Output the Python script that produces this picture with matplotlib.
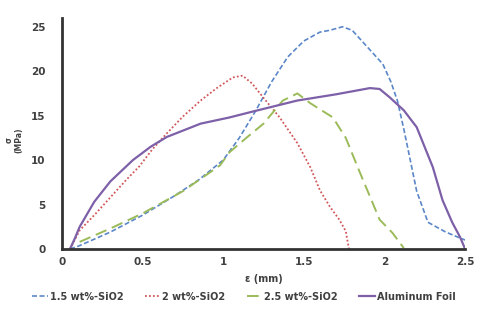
import matplotlib
matplotlib.use("Agg")
import matplotlib.pyplot as plt

# strain (mm) / stress (MPa)
x_15 = [0.05, 0.1, 0.3, 0.5, 0.7, 0.85, 1.0, 1.1, 1.2, 1.3, 1.4, 1.5, 1.6, 1.66, 1.74, 1.8, 1.87, 1.93,
        1.99, 2.04, 2.08, 2.12, 2.16, 2.2, 2.27, 2.38, 2.5]
y_15 = [0.0, 0.3, 1.9, 3.8, 6.0, 7.8, 10.0, 12.5, 15.5, 18.8, 21.6, 23.4, 24.4, 24.6, 25.0, 24.6, 23.2, 22.0,
        20.8, 18.8, 16.7, 13.5, 10.0, 6.5, 3.0, 1.9, 1.0]

x_20 = [0.05, 0.11, 0.2, 0.3, 0.4, 0.48, 0.56, 0.65, 0.75, 0.86, 0.96, 1.06, 1.12, 1.18, 1.25, 1.35,
        1.46, 1.54, 1.6, 1.66, 1.72, 1.76, 1.78]
y_20 = [0.0, 2.1, 3.8, 5.8, 7.8, 9.3, 11.2, 13.0, 14.9, 16.7, 18.1, 19.3, 19.5, 18.6, 17.0, 14.8,
        11.9, 9.2, 6.6, 4.8, 3.3, 2.0, 0.0]

x_25 = [0.11, 0.3, 0.5, 0.75, 0.98, 1.04, 1.15, 1.25, 1.37, 1.46, 1.54, 1.68, 1.76, 1.85, 1.97, 2.05, 2.12]
y_25 = [0.8, 2.3, 4.0, 6.5, 9.4, 10.9, 12.6, 14.1, 16.7, 17.5, 16.4, 14.8, 12.5, 8.5, 3.3, 1.8, 0.1]

x_al = [0.05, 0.08, 0.11, 0.2, 0.3, 0.44, 0.55, 0.65, 0.86, 1.04, 1.17, 1.46, 1.7, 1.91, 1.97, 2.03,
        2.12, 2.2, 2.3, 2.36, 2.42, 2.47, 2.5]
y_al = [0.0, 1.2, 2.5, 5.3, 7.6, 10.0, 11.5, 12.6, 14.1, 14.8, 15.4, 16.7, 17.4, 18.1, 18.0, 17.1,
        15.6, 13.7, 9.2, 5.5, 3.0, 1.3, 0.0]

fig = plt.figure(figsize=(4.88, 3.25), dpi=100)
ax = fig.add_axes([0.127, 0.234, 0.826, 0.711])

ax.plot(x_15, y_15, color="#5B87C8", lw=1.2, ls=(0, (3, 1.5)), label="1.5 wt%-SiO2")
ax.plot(x_20, y_20, color="#D0575A", lw=1.3, ls=(0, (1, 1.2)), label="2 wt%-SiO2")
ax.plot(x_25, y_25, color="#9BBB59", lw=1.4, ls=(0, (6, 3)), label="2.5 wt%-SiO2")
ax.plot(x_al, y_al, color="#7D60A8", lw=1.6, ls="-", label="Aluminum Foil")

ax.set_xlim(0, 2.5)
ax.set_ylim(0, 26)
ax.set_xticks([0, 0.5, 1, 1.5, 2, 2.5])
ax.set_xticklabels(["0", "0.5", "1", "1.5", "2", "2.5"])
ax.set_yticks([0, 5, 10, 15, 20, 25])

for s in ["top", "right"]:
    ax.spines[s].set_visible(False)
for s in ["left", "bottom"]:
    ax.spines[s].set_linewidth(2)
    ax.spines[s].set_color("#333333")

ax.tick_params(axis="x", length=0, pad=6, labelsize=7.5, labelcolor="#404040")
ax.tick_params(axis="y", length=0, pad=12, labelsize=7.5, labelcolor="#404040")
for lab in ax.get_xticklabels() + ax.get_yticklabels():
    lab.set_fontweight("bold")

ax.set_xlabel("ε (mm)", fontsize=7, fontweight="bold", color="#404040", labelpad=5)
ax.set_ylabel("σ\n(MPa)", fontsize=5.5, fontweight="bold", color="#404040")
ax.yaxis.set_label_coords(-0.095, 0.47)

fig.legend(loc="lower center", bbox_to_anchor=(0.5, 0.045), ncol=4, frameon=False,
           prop={"size": 7, "weight": "bold"}, labelcolor="#404040",
           handlelength=1.6, handletextpad=0.2, columnspacing=2.2)

plt.savefig("out.png", dpi=100)
